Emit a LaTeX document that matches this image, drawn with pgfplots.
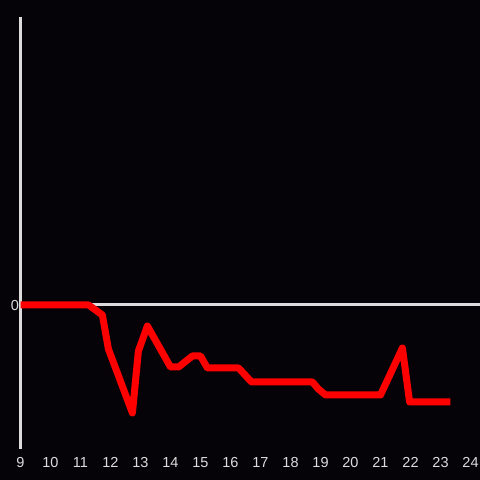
\documentclass[border=0pt]{standalone}
\usepackage{pgfplots}
\pgfplotsset{compat=1.18}
\usepackage{fontspec}
\setmainfont{Liberation Sans}
\definecolor{bg}{RGB}{5,3,8}
\definecolor{axgray}{RGB}{220,220,220}
\definecolor{lred}{RGB}{255,0,0}
\begin{document}
\begin{tikzpicture}
\fill[bg] (0,0) rectangle (480pt,480pt);
\begin{axis}[
  at={(20.5pt,31pt)}, anchor=south west,
  scale only axis, width=460pt, height=432pt,
  xmin=9, xmax=24.3333, ymin=-14.4, ymax=28.8,
  axis y line*=left, axis x line*=bottom,
  x axis line style={draw=none},
  y axis line style={draw=axgray, line width=3pt},
  xtick={9,10,...,24}, ytick={0},
  major tick length=0pt,
  tick style={draw=none},
  /pgf/number format/assume math mode=true,
  ticklabel style={font=\fontsize{14.5}{16}\selectfont, text=axgray},
  xticklabel style={yshift=-5pt},
  yticklabel style={xshift=2pt, yshift=-1pt},
  clip=false,
]
\addplot[draw=axgray, line width=3pt] coordinates {(9,0) (24.3333,0)};
\addplot[draw=lred, line width=7pt, line join=round] coordinates {
(9,0) (11.27,0) (11.73,-1.0) (11.93,-4.4) (12.73,-10.8) (12.93,-4.6)
(13.23,-2.1) (14.0,-6.2) (14.27,-6.2) (14.73,-5.1) (15.0,-5.1) (15.23,-6.3)
(16.27,-6.3) (16.7,-7.7) (18.73,-7.7) (18.93,-8.4) (19.17,-9.0) (21.0,-9.0)
(21.73,-4.3) (21.97,-9.7) (23.33,-9.7)
};
\end{axis}
\pgfresetboundingbox
\path[use as bounding box] (0,0) rectangle (480pt,480pt);
\end{tikzpicture}
\end{document}
